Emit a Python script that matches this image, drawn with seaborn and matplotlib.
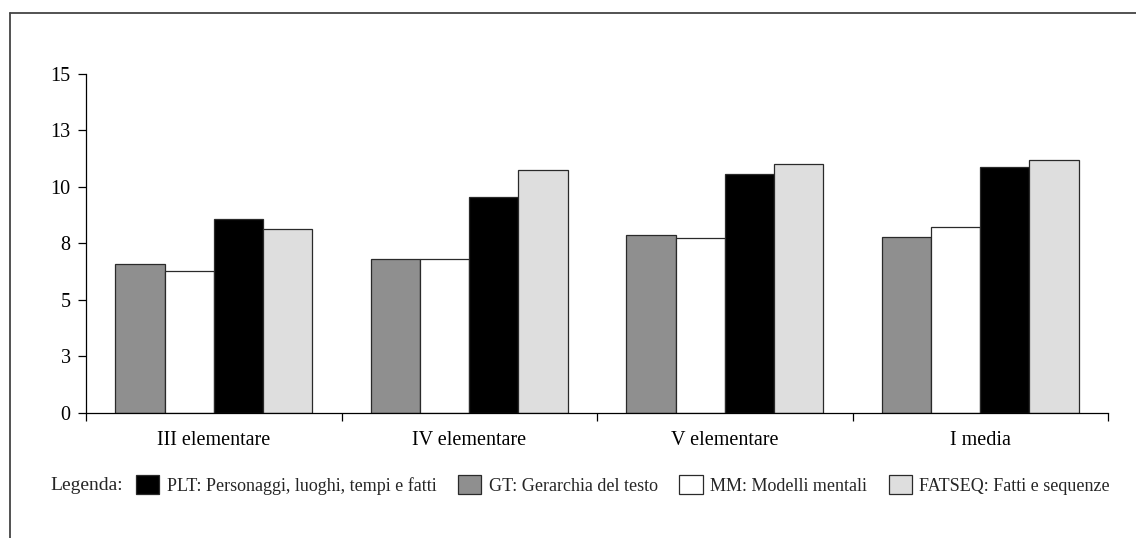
import matplotlib
matplotlib.use("Agg")
import matplotlib.pyplot as plt
from matplotlib.lines import Line2D
import seaborn as sns
import pandas as pd

# ---- data ----
categories = ["III elementare", "IV elementare", "V elementare", "I media"]
series_names = ["GT", "MM", "PLT", "FATSEQ"]
gt_values = [6.58, 6.82, 7.88, 7.79]
mm_values = [6.27, 6.82, 7.72, 8.24]
plt_values = [8.58, 9.57, 10.56, 10.90]
fatseq_values = [8.15, 10.76, 11.01, 11.19]
y_ticks = [0, 2.5, 5, 7.5, 10, 12.5, 15]
y_tick_labels = ["0", "3", "5", "8", "10", "13", "15"]
legend_order = ["PLT", "GT", "MM", "FATSEQ"]
legend_labels = {
    "PLT": "PLT: Personaggi, luoghi, tempi e fatti",
    "GT": "GT: Gerarchia del testo",
    "MM": "MM: Modelli mentali",
    "FATSEQ": "FATSEQ: Fatti e sequenze",
}
legend_title = "Legenda:"

colors = {"GT": "#8f8f8f", "MM": "#ffffff", "PLT": "#000000", "FATSEQ": "#dedede"}

rows = []
for name, vals in zip(series_names, [gt_values, mm_values, plt_values, fatseq_values]):
    for c, v in zip(categories, vals):
        rows.append({"cat": c, "series": name, "value": v})
df = pd.DataFrame(rows)

sns.set_theme(style="white")
plt.rcParams["font.family"] = ["Liberation Serif", "DejaVu Serif"]

W, H = 1136, 538
fig = plt.figure(figsize=(W / 100, H / 100), dpi=100)
ax = fig.add_axes([86 / W, 1 - 412.7 / H, (1108 - 86) / W, (412.7 - 74) / H])

sns.barplot(data=df, x="cat", y="value", hue="series", order=categories,
            hue_order=series_names, palette=colors, width=0.77,
            edgecolor="#2a2a2a", linewidth=0.9, ax=ax, legend=True)

ax.set_xlim(-0.5, 3.5)
ax.set_ylim(0, 15)
ax.set_xlabel("")
ax.set_ylabel("")
ax.set_yticks(y_ticks)
ax.set_yticklabels(y_tick_labels, fontsize=14.5, color="black")
ax.tick_params(axis="y", which="major", length=6, width=0.9, pad=5,
               color="black", left=True)
ax.set_xticks(range(len(categories)))
ax.set_xticklabels(categories, fontsize=14.5, color="black")
ax.tick_params(axis="x", which="major", length=0, pad=13)
ax.set_xticks([-0.5, 0.5, 1.5, 2.5, 3.5], minor=True)
ax.tick_params(axis="x", which="minor", length=6, width=0.9, color="black",
               bottom=True, direction="out")
for s in ["top", "right"]:
    ax.spines[s].set_visible(False)
for s in ["left", "bottom"]:
    ax.spines[s].set_color("black")
    ax.spines[s].set_linewidth(0.9)
ax.grid(False)

handles, labels = ax.get_legend_handles_labels()
hmap = dict(zip(labels, handles))
ax.get_legend().remove()
fig.legend([hmap[k] for k in legend_order], [legend_labels[k] for k in legend_order],
           loc="center left", bbox_to_anchor=(136 / W, 1 - 485 / H),
           ncol=4, frameon=False, fontsize=13, handlelength=1.3,
           handleheight=1.2, handletextpad=0.4, columnspacing=1.2,
           borderpad=0, borderaxespad=0)
fig.text(50 / W, 1 - 485 / H, legend_title, fontsize=14, ha="left", va="center")

# outer frame (top and left edges)
fig.add_artist(Line2D([10 / W, 1], [1 - 13 / H, 1 - 13 / H], color="#444444", lw=1.3,
                      transform=fig.transFigure))
fig.add_artist(Line2D([10 / W, 10 / W], [0, 1 - 13 / H], color="#444444", lw=1.3,
                      transform=fig.transFigure))

fig.savefig("out.png", dpi=100, facecolor="white")
